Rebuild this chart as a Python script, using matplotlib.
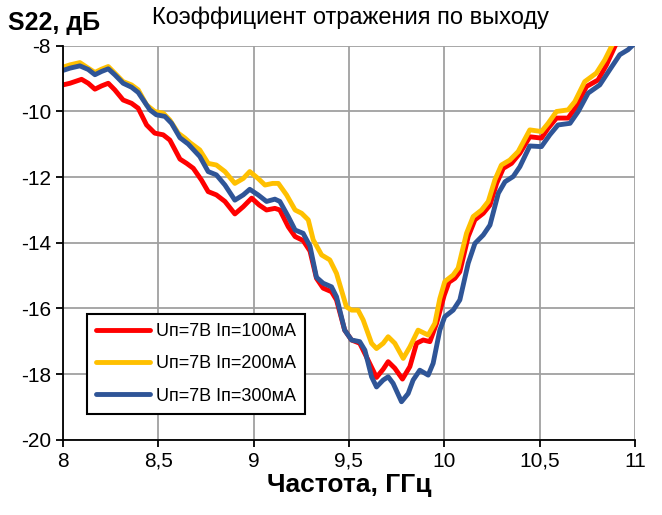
import matplotlib
matplotlib.use("Agg")
import matplotlib.pyplot as plt
from matplotlib import font_manager

# values
x_red = [8.0, 8.037, 8.098, 8.133, 8.168, 8.203, 8.238, 8.272, 8.316, 8.36, 8.395, 8.439, 8.482,
         8.526, 8.561, 8.614, 8.649, 8.684, 8.727, 8.762, 8.805, 8.85, 8.902, 8.946, 8.99, 9.03,
         9.068, 9.112, 9.138, 9.182, 9.218, 9.26, 9.296, 9.33, 9.365, 9.409, 9.435, 9.478, 9.514,
         9.557, 9.592, 9.645, 9.68, 9.706, 9.741, 9.781, 9.82, 9.855, 9.89, 9.925, 9.96, 10.0,
         10.025, 10.056, 10.082, 10.126, 10.161, 10.205, 10.24, 10.275, 10.31, 10.353, 10.397,
         10.449, 10.51, 10.545, 10.589, 10.65, 10.693, 10.746, 10.807, 10.851, 10.903]
y_red = [-9.19, -9.14, -9.02, -9.14, -9.32, -9.22, -9.14, -9.34, -9.65, -9.75, -9.90, -10.41, -10.66,
         -10.71, -10.87, -11.45, -11.58, -11.73, -12.09, -12.44, -12.54, -12.74, -13.12, -12.90, -12.64, -12.85,
         -13.0, -12.95, -13.0, -13.51, -13.81, -13.93, -14.25, -15.08, -15.38, -15.49, -15.74, -16.66, -16.96,
         -17.06, -17.47, -18.10, -17.85, -17.62, -17.82, -18.15, -17.77, -17.06, -16.96, -17.01, -16.45, -15.6,
         -15.2, -15.08, -14.88, -13.81, -13.30, -13.10, -12.85, -12.19, -11.73, -11.58, -11.27,
         -10.77, -10.81, -10.51, -10.20, -10.20, -9.85, -9.24, -9.04, -8.58, -7.92]

x_yel = [8.0, 8.037, 8.089, 8.133, 8.168, 8.203, 8.238, 8.272, 8.316, 8.36, 8.395, 8.439, 8.482,
         8.526, 8.561, 8.605, 8.64, 8.667, 8.718, 8.762, 8.805, 8.85, 8.902, 8.946, 8.98, 9.024,
         9.06, 9.10, 9.13, 9.173, 9.218, 9.252, 9.287, 9.313, 9.357, 9.40, 9.435, 9.487, 9.514,
         9.548, 9.575, 9.619, 9.645, 9.68, 9.706, 9.741, 9.785, 9.82, 9.863, 9.916, 9.951, 9.977,
         10.003, 10.047, 10.073, 10.117, 10.152, 10.196, 10.231, 10.266, 10.30, 10.344, 10.388,
         10.449, 10.51, 10.545, 10.589, 10.65, 10.685, 10.737, 10.798, 10.842, 10.886]
y_yel = [-8.65, -8.58, -8.51, -8.68, -8.81, -8.71, -8.63, -8.83, -9.09, -9.19, -9.34, -9.80, -10.0,
         -10.05, -10.26, -10.66, -10.81, -10.95, -11.17, -11.58, -11.63, -11.83, -12.19, -12.04, -11.83, -12.04,
         -12.24, -12.19, -12.19, -12.54, -13.0, -13.10, -13.30, -13.91, -14.37, -14.52, -14.93, -15.95, -16.05,
         -16.05, -16.35, -17.06, -17.22, -17.06, -16.86, -17.06, -17.52, -17.17, -16.66, -16.81, -16.45, -15.70,
         -15.18, -14.98, -14.77, -13.71, -13.2, -13.0, -12.74, -12.08, -11.63, -11.48, -11.22,
         -10.56, -10.61, -10.36, -10.0, -9.95, -9.70, -9.09, -8.83, -8.43, -7.92]

x_blu = [8.0, 8.037, 8.089, 8.133, 8.168, 8.203, 8.238, 8.272, 8.316, 8.36, 8.395, 8.456, 8.49,
         8.535, 8.57, 8.614, 8.657, 8.718, 8.762, 8.805, 8.85, 8.902, 8.946, 8.98, 9.024, 9.068,
         9.112, 9.138, 9.182, 9.218, 9.26, 9.296, 9.33, 9.365, 9.409, 9.435, 9.478, 9.514, 9.557,
         9.584, 9.619, 9.645, 9.68, 9.706, 9.732, 9.776, 9.811, 9.837, 9.872, 9.916, 9.942, 9.977,
         10.003, 10.047, 10.082, 10.126, 10.161, 10.205, 10.24, 10.284, 10.319, 10.362, 10.397,
         10.449, 10.51, 10.554, 10.597, 10.66, 10.703, 10.755, 10.816, 10.868, 10.921, 10.964, 11.0]
y_blu = [-8.75, -8.68, -8.61, -8.72, -8.88, -8.78, -8.70, -8.88, -9.14, -9.26, -9.42, -9.95, -10.10,
         -10.15, -10.36, -10.80, -10.99, -11.37, -11.83, -11.93, -12.24, -12.70, -12.54, -12.37, -12.54, -12.74,
         -12.67, -12.74, -13.20, -13.61, -13.71, -14.1, -15.05, -15.23, -15.34, -15.64, -16.66, -16.96, -17.01,
         -17.27, -18.08, -18.39, -18.18, -18.08, -18.28, -18.84, -18.59, -18.18, -17.88, -18.03, -17.67, -16.66,
         -16.25, -16.05, -15.74, -14.62, -14.02, -13.76, -13.46, -12.49, -12.14, -11.98, -11.68,
         -11.05, -11.07, -10.71, -10.41, -10.36, -10.0, -9.44, -9.19, -8.73, -8.27, -8.12, -7.92]

labels = ['Uп=7В Iп=100мА', 'Uп=7В Iп=200мА', 'Uп=7В Iп=300мА']
colors = ['#ff0000', '#ffc000', '#2f5597']
x_ticks = [8, 8.5, 9, 9.5, 10, 10.5, 11]
x_tick_labels = ['8', '8,5', '9', '9,5', '10', '10,5', '11']
y_ticks = [-20, -18, -16, -14, -12, -10, -8]

names = {f.name for f in font_manager.fontManager.ttflist}
if 'Liberation Sans Narrow' in names:
    plt.rcParams['font.family'] = ['Liberation Sans Narrow', 'DejaVu Sans']
else:
    plt.rcParams['font.family'] = ['Liberation Sans', 'DejaVu Sans']
plt.rcParams['axes.unicode_minus'] = False

fig = plt.figure(figsize=(6.62, 5.15), dpi=100)
ax = fig.add_axes([0.095, 0.146, 0.864, 0.765])

for xs, ys, c, lab in zip([x_red, x_yel, x_blu], [y_red, y_yel, y_blu], colors, labels):
    ax.plot(xs, ys, color=c, lw=3.5, label=lab, solid_joinstyle='round', solid_capstyle='round')

ax.set_xlim(8, 11)
ax.set_ylim(-20, -8)
ax.set_xticks(x_ticks)
ax.set_xticklabels(x_tick_labels)
ax.set_yticks(y_ticks)
ax.grid(True, color='#a0a0a0', lw=1.3)
ax.set_axisbelow(True)
for s in ['top', 'right']:
    ax.spines[s].set_visible(False)
for s in ['left', 'bottom']:
    ax.spines[s].set_linewidth(1.3)
ax.tick_params(labelsize=15, length=5, width=1.3)

ax.set_xlabel('Частота, ГГц', fontsize=19, fontweight='bold', labelpad=2)
fig.text(0.012, 0.955, 'S22, дБ', fontsize=18, fontweight='bold', va='center')
fig.text(0.23, 0.965, 'Коэффициент отражения по выходу', fontsize=17, va='center')

leg = ax.legend(loc='lower left', bbox_to_anchor=(0.042, 0.066), fontsize=13, frameon=True,
                fancybox=False, edgecolor='black', framealpha=1, handlelength=3.0,
                borderaxespad=0, labelspacing=0.85, handletextpad=0.3, borderpad=0.5)
leg.get_frame().set_linewidth(1.5)

fig.savefig('out.png', dpi=100)
